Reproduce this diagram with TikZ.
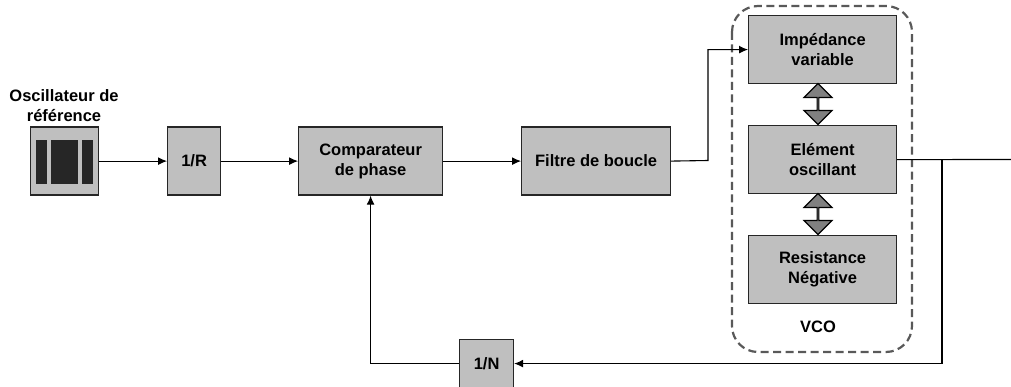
\documentclass[tikz,border=0pt]{standalone}
\usepackage{fontspec}
\setmainfont{Liberation Sans}
\usetikzlibrary{arrows.meta,shapes.arrows}

\tikzstyle{pllfig}=[x=1pt,y=-1pt,font=\fontsize{16.5}{20}\selectfont\bfseries]
\tikzstyle{blockbox}=[draw=black!85,fill=black!25,line width=1.2pt,inner sep=0pt,align=center,anchor=north west]
\tikzstyle{bar}=[fill=black!85,inner sep=0pt,anchor=north west]
\tikzstyle{sig}=[line width=1.1pt,-{Latex[length=9pt,width=8pt]}]
\tikzstyle{wire}=[line width=1.1pt]
\tikzstyle{link}=[draw=black,fill=black!50,line width=1.1pt,shape=double arrow,rotate=90,inner sep=0pt,
  double arrow head extend=8pt,minimum width=28pt,single arrow head indent=0pt]

\begin{document}
\begin{tikzpicture}[style=pllfig]
\useasboundingbox (0,0) rectangle (1011,387);

\node[blockbox,minimum width=68pt,minimum height=68pt] (osc) at (30,126.5) {};
\node[bar,minimum width=11pt,minimum height=44pt] (barl) at (36,140) {};
\node[bar,minimum width=27pt,minimum height=44pt] (barm) at (51,140) {};
\node[bar,minimum width=11pt,minimum height=44pt] (barr) at (82,140) {};
\node[align=center,anchor=south] (osclabel) at (64,125) {Oscillateur de\\référence};

\node[blockbox,minimum width=53pt,minimum height=68pt] (divr) at (167,126.5) {1/R};
\node[blockbox,minimum width=144pt,minimum height=68pt] (comp) at (298,126.5) {Comparateur\\de phase};
\node[blockbox,minimum width=149pt,minimum height=68pt] (filt) at (521,126.5) {Filtre de boucle};

\draw[black!65,line width=2.2pt,dashed,dash pattern=on 8pt off 4.5pt,rounded corners=26pt] (732,6) rectangle (912,352);
\node[blockbox,minimum width=148pt,minimum height=68pt] (imp) at (748,15) {Impédance\\variable};
\node[blockbox,minimum width=148pt,minimum height=68pt] (elem) at (748,125) {Elément\\oscillant};
\node[blockbox,minimum width=148pt,minimum height=68pt] (res) at (748,235) {Resistance\\Négative};
\node (vco) at (818,327) {VCO};

\node[link,minimum height=41pt] (linka) at (818,104) {};
\node[link,minimum height=41pt] (linkb) at (818,214) {};

\node[blockbox,minimum width=54pt,minimum height=48pt] (divn) at (459,339) {1/N};

\coordinate (bend) at (708,160.5);
\coordinate (tap) at (942,159.5);
\coordinate (out) at (1011,159.5);

\draw[sig] (osc.east) -- (divr.west);
\draw[sig] (divr.east) -- (comp.west);
\draw[sig] (comp.east) -- (filt.west);
\draw[sig] (filt.east) -- (bend) |- (imp.west);
\draw[wire] (elem.east) -- (out);
\draw[sig] (tap) |- (divn.east);
\draw[sig] (divn.west) -| (comp.south);
\end{tikzpicture}
\end{document}
